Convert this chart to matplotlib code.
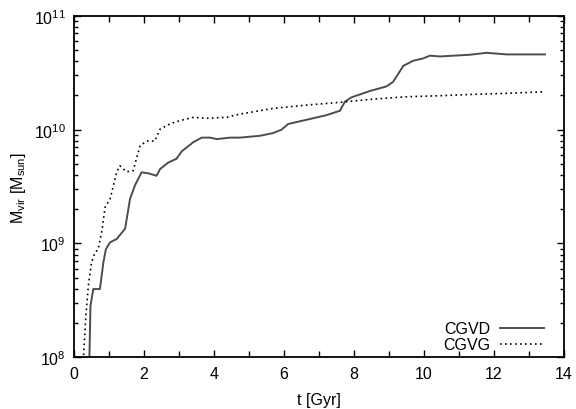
import numpy as np
import matplotlib
matplotlib.use("Agg")
import matplotlib.pyplot as plt
from matplotlib.ticker import LogLocator, MultipleLocator

# CGVD halo (solid line): time in Gyr, log10 of M_vir
t_cgvd = [0.43, 0.44, 0.47, 0.55, 0.74, 0.84, 0.91, 1.03, 1.22, 1.46, 1.60, 1.74, 1.93,
          2.12, 2.36, 2.46, 2.69, 2.93, 3.08, 3.41, 3.65, 3.89, 4.08, 4.46, 4.74, 5.31,
          5.69, 5.93, 6.12, 6.65, 7.22, 7.60, 7.74, 7.93, 8.46, 8.93, 9.12, 9.41, 9.69,
          9.98, 10.17, 10.46, 11.31, 11.79, 12.36, 13.46]
logm_cgvd = [7.5, 8.0, 8.45, 8.60, 8.60, 8.835, 8.95, 9.01, 9.04, 9.13, 9.39, 9.51, 9.625,
             9.617, 9.595, 9.654, 9.71, 9.745, 9.81, 9.89, 9.93, 9.93, 9.917, 9.93, 9.93, 9.946,
             9.97, 10.0, 10.05, 10.087, 10.128, 10.166, 10.245, 10.284, 10.34, 10.38, 10.42, 10.56, 10.605,
             10.626, 10.65, 10.643, 10.658, 10.675, 10.661, 10.661]

# CGVG halo (dotted line)
t_cgvg = [0.25, 0.27, 0.34, 0.41, 0.50, 0.60, 0.69, 0.79, 0.89, 1.03, 1.22, 1.31, 1.50,
          1.69, 1.89, 2.08, 2.31, 2.46, 2.74, 3.03, 3.41, 3.79, 4.36, 4.74, 5.31, 5.69,
          6.65, 7.60, 8.55, 9.50, 10.46, 11.41, 12.36, 13.46]
logm_cgvg = [7.8, 8.0, 8.37, 8.63, 8.835, 8.92, 8.95, 9.10, 9.32, 9.39, 9.625, 9.683, 9.63,
             9.64, 9.86, 9.90, 9.90, 10.005, 10.05, 10.08, 10.108, 10.10, 10.108, 10.137, 10.166, 10.187,
             10.216, 10.24, 10.268, 10.289, 10.298, 10.31, 10.319, 10.333]

plt.rcParams['font.family'] = ['Liberation Sans', 'DejaVu Sans']
plt.rcParams['font.size'] = 11.5
plt.rcParams['mathtext.default'] = 'regular'

fig = plt.figure(figsize=(5.76, 4.10), dpi=100)
ax = fig.add_axes([0.1285, 0.126, 0.979 - 0.1285, 0.959 - 0.126])

ax.plot(t_cgvd, 10 ** np.array(logm_cgvd), color='#4d4d4d', lw=1.4, label='CGVD')
ax.plot(t_cgvg, 10 ** np.array(logm_cgvg), color='black', lw=1.2, ls=(0, (1, 2)), label='CGVG')

ax.set_yscale('log')
ax.set_xlim(0, 14)
ax.set_ylim(1e8, 1e11)
ax.xaxis.set_major_locator(MultipleLocator(2))
ax.xaxis.set_minor_locator(MultipleLocator(1))
ax.yaxis.set_major_locator(LogLocator(base=10, numticks=10))
ax.yaxis.set_minor_locator(LogLocator(base=10, subs=np.arange(2, 10), numticks=10))

# gnuplot-like ticks: inside, on every side
ax.tick_params(which='both', direction='in', top=True, right=True, width=1)
ax.tick_params(which='major', length=5, pad=6)
ax.tick_params(which='minor', length=3)
ax.tick_params(axis='x', which='minor', length=4)
for s in ax.spines.values():
    s.set_linewidth(1.3)

ax.set_xlabel('t [Gyr]', labelpad=8)
ax.set_ylabel('M$_{vir}$ [M$_{sun}$]', labelpad=4)

# legend: label first, sample on the right, bottom right corner
ax.legend(loc='lower right', bbox_to_anchor=(0.96, 0.015), frameon=False, markerfirst=False,
          handlelength=2.75, handletextpad=0.6, labelspacing=0.05, borderpad=0, borderaxespad=0)

fig.savefig('out.png', dpi=100)
